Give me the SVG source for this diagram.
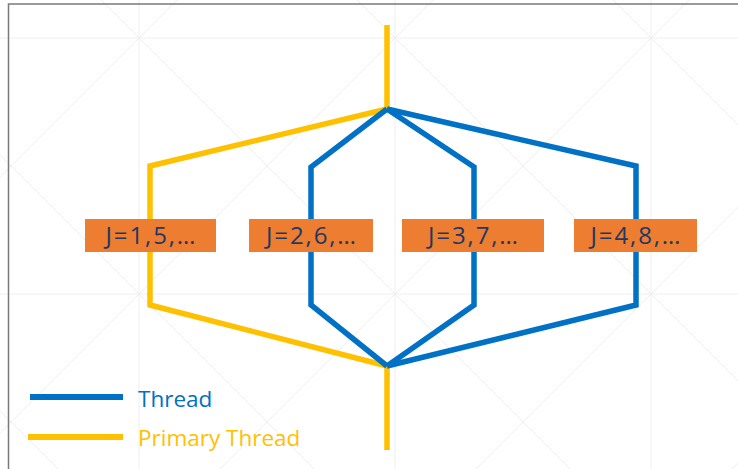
<svg xmlns="http://www.w3.org/2000/svg" width="738" height="469" viewBox="0 0 738 469">
  <style>
    .grid { stroke: #eeeeee; stroke-width: 1; fill: none; }
    .primary { stroke: #ffc000; stroke-width: 5.5; fill: none; stroke-linejoin: miter; }
    .thread { stroke: #0071c5; stroke-width: 5.5; fill: none; stroke-linejoin: miter; }
    .box { fill: #ed7d31; }
    .label { font-family: "Open Sans", "Noto Sans", sans-serif; font-size: 24px; font-weight: 500; fill: #1f3864; text-anchor: middle; }
    .legend { font-family: "Open Sans", "Noto Sans", sans-serif; font-size: 22.5px; }
  </style>

  <rect x="0" y="0" width="738" height="469" fill="#ffffff"/>

  <!-- faint background grid -->
  <g id="grid" class="grid">
    <line x1="139" y1="0" x2="139" y2="469"/>
    <line x1="395" y1="0" x2="395" y2="469"/>
    <line x1="651" y1="0" x2="651" y2="469"/>
    <line x1="0" y1="38" x2="738" y2="38"/>
    <line x1="0" y1="294" x2="738" y2="294"/>
    <!-- x - y = const -->
    <line x1="-155" y1="0" x2="314" y2="469"/>
    <line x1="101" y1="0" x2="570" y2="469"/>
    <line x1="357" y1="0" x2="826" y2="469"/>
    <line x1="613" y1="0" x2="1082" y2="469"/>
    <line x1="-411" y1="0" x2="58" y2="469"/>
    <!-- x + y = const -->
    <line x1="177" y1="0" x2="-292" y2="469"/>
    <line x1="433" y1="0" x2="-36" y2="469"/>
    <line x1="689" y1="0" x2="220" y2="469"/>
    <line x1="945" y1="0" x2="476" y2="469"/>
    <line x1="1201" y1="0" x2="732" y2="469"/>
  </g>

  <!-- frame -->
  <path d="M8.5 469 V4 H738" fill="none" stroke="#7a7a7a" stroke-width="1.5"/>

  <g id="connectors">
    <path class="primary" d="M387 25 V109 L150 166 V305 L387 366 V450"/>
    <path class="thread" d="M387 109 L311 167 V305 L387 366"/>
    <path class="thread" d="M387 109 L474 167 V305 L387 366"/>
    <path class="thread" d="M387 109 L636 166 V305 L387 366"/>
  </g>

  <g id="node-j1">
    <rect class="box" x="85" y="219" width="131" height="33"/>
    <text class="label" x="150.5" y="244" textLength="90" lengthAdjust="spacing">J=1,5,…</text>
  </g>
  <g id="node-j2">
    <rect class="box" x="249" y="219" width="124" height="33"/>
    <text class="label" x="311" y="244" textLength="90" lengthAdjust="spacing">J=2,6,…</text>
  </g>
  <g id="node-j3">
    <rect class="box" x="402" y="219" width="142" height="33"/>
    <text class="label" x="473" y="244" textLength="90" lengthAdjust="spacing">J=3,7,…</text>
  </g>
  <g id="node-j4">
    <rect class="box" x="574" y="219" width="123" height="33"/>
    <text class="label" x="635.5" y="244" textLength="90" lengthAdjust="spacing">J=4,8,…</text>
  </g>

  <g id="legend">
    <line x1="30" y1="397" x2="123" y2="397" stroke="#0071c5" stroke-width="6"/>
    <text class="legend" x="138" y="407" fill="#0071c5">Thread</text>
    <line x1="28" y1="437" x2="123" y2="437" stroke="#ffc000" stroke-width="6"/>
    <text class="legend" x="138" y="446" fill="#ffc000">Primary Thread</text>
  </g>
</svg>
